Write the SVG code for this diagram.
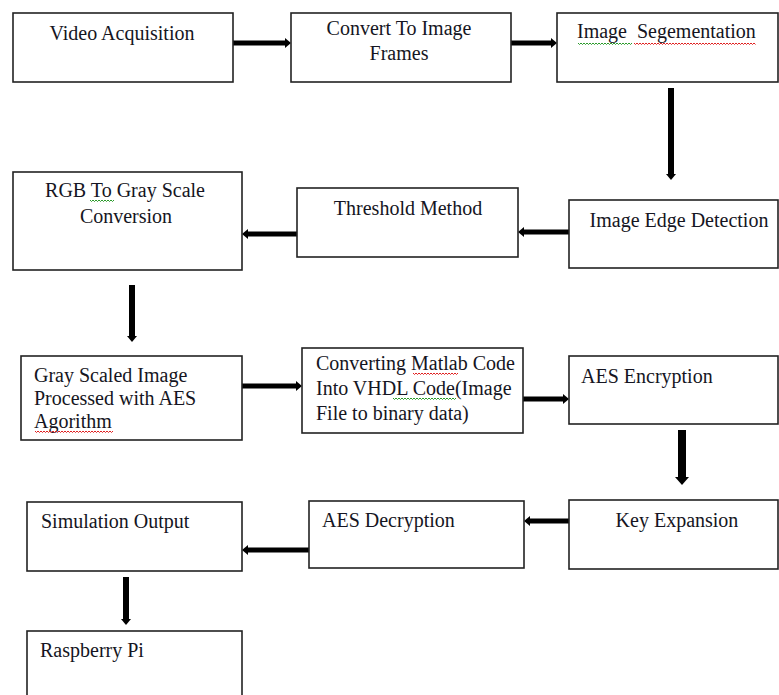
<svg xmlns="http://www.w3.org/2000/svg" width="779" height="695" viewBox="0 0 779 695">
<style>
.box{fill:#fff;stroke:#222;stroke-width:1.6}
text{font-family:'Liberation Serif','Times New Roman','DejaVu Serif',serif;font-size:20px;fill:#151522}
.c{text-anchor:middle}
.a{stroke:#000;stroke-width:5;fill:none;marker-end:url(#ah)}
.av{stroke:#000;stroke-width:6;fill:none;marker-end:url(#ah)}
.ab{stroke:#000;stroke-width:8;fill:none;marker-end:url(#ahb)}
.sg{fill:none;stroke:#2a9a2a;stroke-width:1}
.sr{fill:none;stroke:#e02020;stroke-width:1}
</style>
<defs>
<marker id="ah" viewBox="0 0 6 10" refX="0" refY="5" markerWidth="6" markerHeight="10" markerUnits="userSpaceOnUse" orient="auto"><path d="M0,0 L6,5 L0,10 z" fill="#000"/></marker>
<marker id="ahb" viewBox="0 0 8 14" refX="0" refY="7" markerWidth="8" markerHeight="14" markerUnits="userSpaceOnUse" orient="auto"><path d="M0,0 L8,7 L0,14 z" fill="#000"/></marker>
</defs>
<rect width="779" height="695" fill="#fff"/>
<g id="connectors">
<line class="a" x1="233" y1="43" x2="285" y2="43"/>
<line class="a" x1="511" y1="43" x2="551" y2="43"/>
<line class="av" x1="671" y1="88" x2="671" y2="174"/>
<line class="a" x1="569" y1="232" x2="524" y2="232"/>
<line class="a" x1="297" y1="234" x2="248" y2="234"/>
<line class="av" x1="132" y1="285" x2="132" y2="336"/>
<line class="a" x1="242" y1="386" x2="296" y2="386"/>
<line class="a" x1="523" y1="399" x2="563" y2="399"/>
<line class="ab" x1="682" y1="430" x2="682" y2="477"/>
<line class="a" x1="569" y1="521" x2="530" y2="521"/>
<line class="a" x1="309" y1="550" x2="248" y2="550"/>
<line class="av" x1="126" y1="577" x2="126" y2="619"/>
</g>
<g font-family="'Liberation Serif', 'DejaVu Serif', serif">
<g id="n1"><rect class="box" x="13" y="13" width="220" height="69"/><text class="c" x="122" y="40">Video Acquisition</text></g>
<g id="n2"><rect class="box" x="291" y="13" width="220" height="69"/><text class="c" x="399" y="35">Convert To Image</text><text class="c" x="399" y="60">Frames</text></g>
<g id="n3"><rect class="box" x="557" y="13" width="221" height="69"/><text x="577" y="38" xml:space="preserve">Image  Segementation</text>
<path class="sg" d="M578,43 l1.5,1.5 l1.5,-1.5 l1.5,1.5 l1.5,-1.5 l1.5,1.5 l1.5,-1.5 l1.5,1.5 l1.5,-1.5 l1.5,1.5 l1.5,-1.5 l1.5,1.5 l1.5,-1.5 l1.5,1.5 l1.5,-1.5 l1.5,1.5 l1.5,-1.5 l1.5,1.5 l1.5,-1.5 l1.5,1.5 l1.5,-1.5 l1.5,1.5 l1.5,-1.5 l1.5,1.5 l1.5,-1.5 l1.5,1.5 l1.5,-1.5 l1.5,1.5 l1.5,-1.5 l1.5,1.5 l1.5,-1.5 l1.5,1.5 l1.5,-1.5 l1.5,1.5 l1.5,-1.5 l1.5,1.5 l1.5,-1.5"/>
<path class="sr" d="M634,43 l1.5,1.5 l1.5,-1.5 l1.5,1.5 l1.5,-1.5 l1.5,1.5 l1.5,-1.5 l1.5,1.5 l1.5,-1.5 l1.5,1.5 l1.5,-1.5 l1.5,1.5 l1.5,-1.5 l1.5,1.5 l1.5,-1.5 l1.5,1.5 l1.5,-1.5 l1.5,1.5 l1.5,-1.5 l1.5,1.5 l1.5,-1.5 l1.5,1.5 l1.5,-1.5 l1.5,1.5 l1.5,-1.5 l1.5,1.5 l1.5,-1.5 l1.5,1.5 l1.5,-1.5 l1.5,1.5 l1.5,-1.5 l1.5,1.5 l1.5,-1.5 l1.5,1.5 l1.5,-1.5 l1.5,1.5 l1.5,-1.5 l1.5,1.5 l1.5,-1.5 l1.5,1.5 l1.5,-1.5 l1.5,1.5 l1.5,-1.5 l1.5,1.5 l1.5,-1.5 l1.5,1.5 l1.5,-1.5 l1.5,1.5 l1.5,-1.5 l1.5,1.5 l1.5,-1.5 l1.5,1.5 l1.5,-1.5 l1.5,1.5 l1.5,-1.5 l1.5,1.5 l1.5,-1.5 l1.5,1.5 l1.5,-1.5 l1.5,1.5 l1.5,-1.5 l1.5,1.5 l1.5,-1.5 l1.5,1.5 l1.5,-1.5 l1.5,1.5 l1.5,-1.5 l1.5,1.5 l1.5,-1.5 l1.5,1.5 l1.5,-1.5 l1.5,1.5 l1.5,-1.5 l1.5,1.5 l1.5,-1.5 l1.5,1.5 l1.5,-1.5 l1.5,1.5 l1.5,-1.5 l1.5,1.5 l1.5,-1.5 l1.5,1.5"/></g>
<g id="n4"><rect class="box" x="569" y="200" width="209" height="68"/><text class="c" x="679" y="227">Image Edge Detection</text></g>
<g id="n5"><rect class="box" x="297" y="188" width="221" height="69"/><text class="c" x="408" y="215">Threshold Method</text></g>
<g id="n6"><rect class="box" x="13" y="172" width="229" height="98"/><text class="c" x="125" y="197">RGB To Gray Scale</text><text class="c" x="126" y="223">Conversion</text>
<path class="sg" d="M90,200 l1.5,1.5 l1.5,-1.5 l1.5,1.5 l1.5,-1.5 l1.5,1.5 l1.5,-1.5 l1.5,1.5 l1.5,-1.5 l1.5,1.5 l1.5,-1.5 l1.5,1.5 l1.5,-1.5 l1.5,1.5 l1.5,-1.5 l1.5,1.5 l1.5,-1.5"/></g>
<g id="n7"><rect class="box" x="21" y="356" width="221" height="84"/><text x="34" y="382">Gray Scaled Image</text><text x="34" y="405">Processed with AES</text><text x="34" y="428">Agorithm</text>
<path class="sr" d="M35,431 l1.5,1.5 l1.5,-1.5 l1.5,1.5 l1.5,-1.5 l1.5,1.5 l1.5,-1.5 l1.5,1.5 l1.5,-1.5 l1.5,1.5 l1.5,-1.5 l1.5,1.5 l1.5,-1.5 l1.5,1.5 l1.5,-1.5 l1.5,1.5 l1.5,-1.5 l1.5,1.5 l1.5,-1.5 l1.5,1.5 l1.5,-1.5 l1.5,1.5 l1.5,-1.5 l1.5,1.5 l1.5,-1.5 l1.5,1.5 l1.5,-1.5 l1.5,1.5 l1.5,-1.5 l1.5,1.5 l1.5,-1.5 l1.5,1.5 l1.5,-1.5 l1.5,1.5 l1.5,-1.5 l1.5,1.5 l1.5,-1.5 l1.5,1.5 l1.5,-1.5 l1.5,1.5 l1.5,-1.5 l1.5,1.5 l1.5,-1.5 l1.5,1.5 l1.5,-1.5 l1.5,1.5 l1.5,-1.5 l1.5,1.5 l1.5,-1.5 l1.5,1.5 l1.5,-1.5 l1.5,1.5 l1.5,-1.5"/></g>
<g id="n8"><rect class="box" x="302" y="348" width="221" height="85"/><text x="316" y="370">Converting Matlab Code</text><text x="316" y="395">Into VHDL Code(Image</text><text x="316" y="420">File to binary data)</text>
<path class="sr" d="M413,373 l1.5,1.5 l1.5,-1.5 l1.5,1.5 l1.5,-1.5 l1.5,1.5 l1.5,-1.5 l1.5,1.5 l1.5,-1.5 l1.5,1.5 l1.5,-1.5 l1.5,1.5 l1.5,-1.5 l1.5,1.5 l1.5,-1.5 l1.5,1.5 l1.5,-1.5 l1.5,1.5 l1.5,-1.5 l1.5,1.5 l1.5,-1.5 l1.5,1.5 l1.5,-1.5 l1.5,1.5 l1.5,-1.5 l1.5,1.5 l1.5,-1.5 l1.5,1.5 l1.5,-1.5 l1.5,1.5 l1.5,-1.5"/>
<path class="sg" d="M393,398 l1.5,1.5 l1.5,-1.5 l1.5,1.5 l1.5,-1.5 l1.5,1.5 l1.5,-1.5 l1.5,1.5 l1.5,-1.5 l1.5,1.5 l1.5,-1.5 l1.5,1.5 l1.5,-1.5 l1.5,1.5 l1.5,-1.5 l1.5,1.5 l1.5,-1.5 l1.5,1.5 l1.5,-1.5 l1.5,1.5 l1.5,-1.5 l1.5,1.5 l1.5,-1.5 l1.5,1.5 l1.5,-1.5 l1.5,1.5 l1.5,-1.5 l1.5,1.5 l1.5,-1.5 l1.5,1.5 l1.5,-1.5 l1.5,1.5 l1.5,-1.5 l1.5,1.5 l1.5,-1.5 l1.5,1.5 l1.5,-1.5 l1.5,1.5 l1.5,-1.5 l1.5,1.5 l1.5,-1.5 l1.5,1.5 l1.5,-1.5"/></g>
<g id="n9"><rect class="box" x="569" y="356" width="209" height="68"/><text x="581" y="383">AES Encryption</text></g>
<g id="n10"><rect class="box" x="569" y="500" width="209" height="69"/><text class="c" x="677" y="527">Key Expansion</text></g>
<g id="n11"><rect class="box" x="309" y="501" width="215" height="67"/><text x="322" y="527">AES Decryption</text></g>
<g id="n12"><rect class="box" x="27" y="502" width="215" height="69"/><text x="41" y="528">Simulation Output</text></g>
<g id="n13"><rect class="box" x="27" y="631" width="215" height="80"/><text x="40" y="657">Raspberry Pi</text></g>
</g>
</svg>
